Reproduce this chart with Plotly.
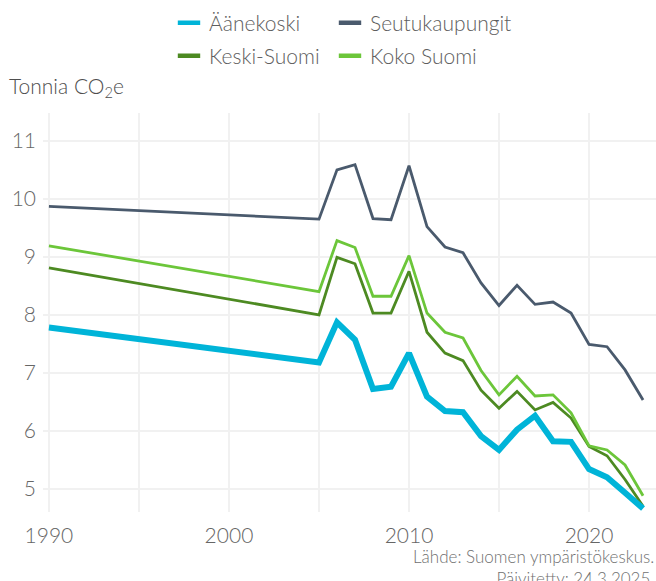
import plotly.graph_objects as go

# Annual per-capita emissions (tonnes CO2e)
years = [1990, 2005, 2006, 2007, 2008, 2009, 2010, 2011, 2012, 2013, 2014,
         2015, 2016, 2017, 2018, 2019, 2020, 2021, 2022, 2023]

aanekoski = [7.78, 7.18, 7.87, 7.57, 6.72, 6.76, 7.34, 6.59, 6.34, 6.32, 5.91,
             5.67, 6.02, 6.26, 5.82, 5.81, 5.34, 5.20, 4.93, 4.66]
seutukaupungit = [9.87, 9.65, 10.50, 10.59, 9.66, 9.64, 10.57, 9.52, 9.17, 9.07, 8.55,
                  8.16, 8.51, 8.18, 8.22, 8.03, 7.49, 7.45, 7.05, 6.53]
keski_suomi = [8.81, 8.00, 8.99, 8.88, 8.03, 8.03, 8.75, 7.70, 7.34, 7.21, 6.70,
               6.39, 6.68, 6.36, 6.49, 6.22, 5.73, 5.57, 5.16, 4.70]
koko_suomi = [9.19, 8.40, 9.28, 9.16, 8.32, 8.32, 9.02, 8.03, 7.70, 7.60, 7.04,
              6.62, 6.94, 6.60, 6.62, 6.31, 5.74, 5.67, 5.41, 4.88]

series = [
    # name, values, colour, line width
    ("Keski-Suomi", keski_suomi, "#4d8a22", 2.8),
    ("Koko Suomi", koko_suomi, "#6cc63a", 2.8),
    ("Seutukaupungit", seutukaupungit, "#4a5a6d", 2.8),
    ("Äänekoski", aanekoski, "#00b4d8", 6),
]
# Legend grid: (name, legend id, left px, row centre px)
legend_slots = [
    ("Äänekoski", "legend", 169, 23),
    ("Seutukaupungit", "legend2", 330, 23),
    ("Keski-Suomi", "legend3", 169, 56),
    ("Koko Suomi", "legend4", 330, 56),
]

FONT = "Lato"
WEIGHT = 300
W, H = 656, 581
fig = go.Figure()

for name, vals, color, width in series:
    fig.add_trace(go.Scatter(
        x=years, y=vals, mode="lines", name=name, showlegend=False,
        line=dict(color=color, width=width),
        hovertemplate="%{x}: %{y:.2f}<extra>" + name + "</extra>",
    ))

# Legend entries: short thick swatches, two per row
colors = {s[0]: s[2] for s in series}
legends = {}
for name, leg, left, row in legend_slots:
    color = colors[name]
    fig.add_trace(go.Scatter(
        x=[None], y=[None], mode="markers", name=name, legend=leg,
        marker=dict(symbol="line-ew", size=17, color=color,
                    line=dict(color=color, width=4.5)),
    ))
    legends[leg] = dict(
        orientation="h", xref="container", yref="container",
        xanchor="left", yanchor="middle", x=left / W, y=1 - row / H,
        font=dict(family=FONT, size=21, color="#5e5e5e", weight=WEIGHT),
        itemwidth=30, bgcolor="rgba(0,0,0,0)",
    )

tickfont = dict(family=FONT, size=21, color="#666666", weight=WEIGHT)

fig.update_layout(
    width=W, height=H,
    margin=dict(l=43, r=0, t=113, b=69),
    paper_bgcolor="white", plot_bgcolor="white",
    font=dict(family=FONT, color="#777777", weight=WEIGHT),
    **legends,
    xaxis=dict(
        range=[1989.67, 2023.72], tick0=1990, dtick=10,
        showgrid=True, gridcolor="#f1f1f1", gridwidth=2,
        minor=dict(dtick=5, tick0=1990, showgrid=True, gridcolor="#f1f1f1", gridwidth=2),
        zeroline=False, showline=False, ticks="",
        tickfont=tickfont, ticklabelstandoff=9,
    ),
    yaxis=dict(
        range=[4.6, 11.48], tick0=5, dtick=1,
        showgrid=True, gridcolor="#f1f1f1", gridwidth=2,
        zeroline=False, showline=False, ticks="",
        tickfont=tickfont, ticklabelstandoff=6,
    ),
    annotations=[
        dict(text="Tonnia CO<sub>2</sub>e", xref="paper", yref="paper",
             x=(7 - 43) / 613, y=1 + (113 - 87) / 399, xanchor="left", yanchor="middle",
             showarrow=False,
             font=dict(family=FONT, size=21, color="#4e4e4e", weight=WEIGHT)),
        dict(text="Lähde: Suomen ympäristökeskus.<br>Päivitetty: 24.3.2025.",
             xref="paper", yref="paper", x=1, y=-(544 - 512) / 399,
             xanchor="right", yanchor="top", align="right", showarrow=False,
             font=dict(family=FONT, size=17, color="#707070", weight=WEIGHT)),
    ],
)

fig.write_html("out.html")
